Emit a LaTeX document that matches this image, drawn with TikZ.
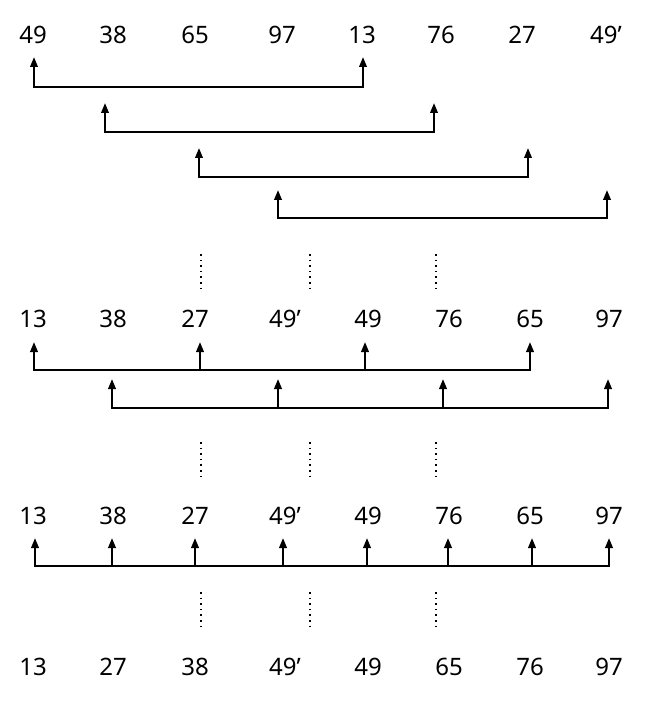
\documentclass[tikz,border=0pt]{standalone}
\usepackage{fontspec}
\setmainfont{Noto Sans}
\usetikzlibrary{arrows.meta}

\begin{document}
\begin{tikzpicture}[
    x=1pt, y=-1pt,
    num/.style={font=\fontsize{24}{28}\selectfont, inner sep=0pt, anchor=base},
    link/.style={{Triangle[width=7.5pt,length=10pt]}-{Triangle[width=7.5pt,length=10pt]}, line width=2.1pt},
    up/.style={-{Triangle[width=7.5pt,length=10pt]}, line width=2.1pt},
    vdots/.style={line width=1.6pt, dash pattern=on 1.6pt off 4pt}
    ]
    \useasboundingbox (0,0) rectangle (648,708);

    % Row 1
    \node[num] (a1) at (33,44) {49};
    \node[num] (a2) at (113,44) {38};
    \node[num] (a3) at (195,44) {65};
    \node[num] (a4) at (282,44) {97};
    \node[num] (a5) at (362,44) {13};
    \node[num] (a6) at (441,44) {76};
    \node[num] (a7) at (522,44) {27};
    \node[num] (a8) at (606,44) {49’};

    % Gap 4 pairs
    \coordinate (g1l) at (34,57);  \coordinate (g1r) at (363,57);
    \coordinate (g2l) at (105,103); \coordinate (g2r) at (434,103);
    \coordinate (g3l) at (199,148); \coordinate (g3r) at (528,148);
    \coordinate (g4l) at (278,190); \coordinate (g4r) at (607,190);
    \draw[link] (g1l) -- (34,87) -- (363,87) -- (g1r);
    \draw[link] (g2l) -- (105,132) -- (434,132) -- (g2r);
    \draw[link] (g3l) -- (199,177) -- (528,177) -- (g3r);
    \draw[link] (g4l) -- (278,218) -- (607,218) -- (g4r);

    \draw[vdots] (201,254) -- (201,289);
    \draw[vdots] (310,254) -- (310,289);
    \draw[vdots] (436,254) -- (436,289);

    % Row 2
    \node[num] (b1) at (33,327) {13};
    \node[num] (b2) at (113,327) {38};
    \node[num] (b3) at (195,327) {27};
    \node[num] (b4) at (285,327) {49’};
    \node[num] (b5) at (368,327) {49};
    \node[num] (b6) at (449,327) {76};
    \node[num] (b7) at (530,327) {65};
    \node[num] (b8) at (609,327) {97};

    % Gap 2 groups
    \coordinate (h1) at (34,342);  \coordinate (h3) at (200,342);
    \coordinate (h5) at (365,342); \coordinate (h7) at (530,342);
    \coordinate (h2) at (112,379); \coordinate (h4) at (278,379);
    \coordinate (h6) at (443,379); \coordinate (h8) at (608,379);
    \draw[link] (h1) -- (34,370) -- (530,370) -- (h7);
    \draw[up] (200,370) -- (h3);
    \draw[up] (365,370) -- (h5);
    \draw[link] (h2) -- (112,408) -- (608,408) -- (h8);
    \draw[up] (278,408) -- (h4);
    \draw[up] (443,408) -- (h6);

    \draw[vdots] (201,442) -- (201,477);
    \draw[vdots] (310,442) -- (310,477);
    \draw[vdots] (436,442) -- (436,477);

    % Row 3
    \node[num] (c1) at (33,524) {13};
    \node[num] (c2) at (113,524) {38};
    \node[num] (c3) at (195,524) {27};
    \node[num] (c4) at (285,524) {49’};
    \node[num] (c5) at (368,524) {49};
    \node[num] (c6) at (449,524) {76};
    \node[num] (c7) at (530,524) {65};
    \node[num] (c8) at (609,524) {97};

    % Gap 1
    \coordinate (k1) at (35,538);  \coordinate (k2) at (112,538);
    \coordinate (k3) at (195,538); \coordinate (k4) at (283,538);
    \coordinate (k5) at (367,538); \coordinate (k6) at (448,538);
    \coordinate (k7) at (532,538); \coordinate (k8) at (609,538);
    \draw[link] (k1) -- (35,566) -- (609,566) -- (k8);
    \draw[up] (112,566) -- (k2);
    \draw[up] (195,566) -- (k3);
    \draw[up] (283,566) -- (k4);
    \draw[up] (367,566) -- (k5);
    \draw[up] (448,566) -- (k6);
    \draw[up] (532,566) -- (k7);

    \draw[vdots] (201,592) -- (201,627);
    \draw[vdots] (310,592) -- (310,627);
    \draw[vdots] (436,592) -- (436,627);

    % Row 4
    \node[num] (d1) at (33,675) {13};
    \node[num] (d2) at (113,675) {27};
    \node[num] (d3) at (195,675) {38};
    \node[num] (d4) at (285,675) {49’};
    \node[num] (d5) at (368,675) {49};
    \node[num] (d6) at (449,675) {65};
    \node[num] (d7) at (530,675) {76};
    \node[num] (d8) at (609,675) {97};
\end{tikzpicture}
\end{document}
